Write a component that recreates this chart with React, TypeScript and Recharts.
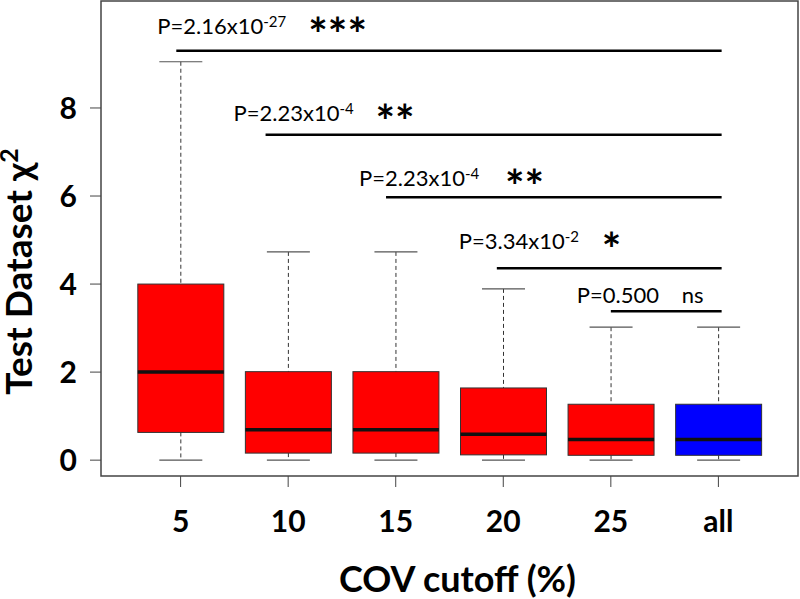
import React from 'react';
import { ComposedChart, Bar, XAxis, YAxis, ReferenceLine, ReferenceArea } from 'recharts';

const FONT = 'Lato, "Open Sans", sans-serif';

// box plot summary per COV cutoff
const categories = ['5', '10', '15', '20', '25', 'all'];
const whiskerLow = [0, 0, 0, 0, 0, 0];
const lowerQuartile = [0.63, 0.16, 0.16, 0.12, 0.11, 0.11];
const medians = [2.0, 0.69, 0.69, 0.59, 0.47, 0.47];
const upperQuartile = [4.0, 2.01, 2.01, 1.64, 1.27, 1.27];
const whiskerHigh = [9.05, 4.73, 4.73, 3.89, 3.02, 3.02];
const boxColors = ['#ff0000', '#ff0000', '#ff0000', '#ff0000', '#ff0000', '#0000ff'];

const yTicks = [0, 2, 4, 6, 8];

// comparisons of each cutoff against "all"
const testStart = [0.96, 1.79, 2.91, 3.94, 5.0];
const testEnd = 6.03;
const testLevel = [9.3, 7.39, 5.97, 4.36, 3.38];
const pValue = ['2.16', '2.23', '2.23', '3.34', '0.500'];
const pExponent = ['-27', '-4', '-4', '-2', ''];
const signif = ['***', '**', '**', '*', 'ns'];

// label placement relative to the bracket start (px)
const labelDx = [-19, -32, -27, -38, -34];
const labelDy = [-17, -14, -11, -19, -8];
const signifDx = [151, 142, 146, 143, 105];

const data = categories.map((name, i) => ({
  x: i + 1,
  name,
  box: [lowerQuartile[i], upperQuartile[i]],
  low: whiskerLow[i],
  q1: lowerQuartile[i],
  med: medians[i],
  q3: upperQuartile[i],
  high: whiskerHigh[i],
  color: boxColors[i],
}));

const BoxShape = (props: any) => {
  const { x, y, width, height, payload } = props;
  const top = Math.min(y, y + height);
  const h = Math.abs(height);
  const ppu = h / (payload.q3 - payload.q1);
  const toY = (v: number) => top + (payload.q3 - v) * ppu;
  const cx = x + width / 2;
  const cap = width / 4;
  return (
    <g>
      <line x1={cx} x2={cx} y1={toY(payload.high)} y2={top} stroke="#333" strokeDasharray="4 3" />
      <line x1={cx} x2={cx} y1={top + h} y2={toY(payload.low)} stroke="#333" strokeDasharray="4 3" />
      <line x1={cx - cap} x2={cx + cap} y1={toY(payload.high)} y2={toY(payload.high)} stroke="#555" strokeWidth={1.2} />
      <line x1={cx - cap} x2={cx + cap} y1={toY(payload.low)} y2={toY(payload.low)} stroke="#555" strokeWidth={1.2} />
      <rect x={x} y={top} width={width} height={h} fill={payload.color} stroke="#333" strokeWidth={1} />
      <line x1={x} x2={x + width} y1={toY(payload.med)} y2={toY(payload.med)} stroke="#111" strokeWidth={3.5} />
    </g>
  );
};

const TestLabel = (props: any) => {
  const { viewBox, index } = props;
  const vx = viewBox?.x ?? viewBox?.x1 ?? 0;
  const vy = viewBox?.y ?? viewBox?.y1 ?? 0;
  const tx = vx + labelDx[index];
  const ty = vy + labelDy[index];
  const exp = pExponent[index];
  const isNs = signif[index] === 'ns';
  return (
    <g>
      <text x={tx} y={ty} fontSize={22} fontFamily={FONT} fill="#000">
        {exp ? `P=${pValue[index]}x10` : `P=${pValue[index]}`}
        {exp ? (
          <tspan dy={-7} fontSize={15}>
            {exp}
          </tspan>
        ) : null}
      </text>
      <text
        x={tx + signifDx[index]}
        y={isNs ? ty : ty + 17}
        fontSize={isNs ? 22 : 46}
        fontWeight={isNs ? 'normal' : 'bold'}
        fontFamily={FONT}
        fill="#000"
      >
        {signif[index]}
      </text>
    </g>
  );
};

const XTitle = (props: any) => {
  const vb = props.viewBox || {};
  return (
    <text x={vb.x + vb.width / 2 + 8} y={vb.y + 116} textAnchor="middle" fontSize={36} fontWeight="bold" fontFamily={FONT} fill="#000">
      COV cutoff (%)
    </text>
  );
};

const YTitle = (props: any) => {
  const vb = props.viewBox || {};
  const cx = 32;
  const cy = vb.y + vb.height / 2 + 33;
  return (
    <text x={cx} y={cy} transform={`rotate(-90 ${cx} ${cy})`} textAnchor="middle" fontSize={37} fontWeight="bold" fontFamily={FONT} fill="#000">
      Test Dataset χ
      <tspan dy={-14} fontSize={25}>2</tspan>
    </text>
  );
};

const tickStyle = { fill: '#000', fontSize: 30, fontWeight: 'bold', fontFamily: FONT };

export default function App() {
  return (
    <div style={{ position: 'absolute', left: 0, top: 0, width: 800, height: 599, background: '#fff' }}>
      <ComposedChart width={800} height={599} data={data} margin={{ top: 1, right: 2, bottom: 0, left: 0 }}>
        <XAxis
          type="number"
          dataKey="x"
          domain={[0.26, 6.74]}
          allowDataOverflow
          ticks={[1, 2, 3, 4, 5, 6]}
          tickFormatter={(v: number) => categories[v - 1]}
          height={123}
          axisLine={false}
          tickLine={{ stroke: '#444' }}
          tickSize={11}
          tickMargin={24}
          tick={tickStyle}
          label={<XTitle />}
        />
        <YAxis
          type="number"
          domain={[-0.36, 10.43]}
          allowDataOverflow
          ticks={yTicks}
          width={101}
          axisLine={false}
          tickLine={{ stroke: '#444' }}
          tickSize={11}
          tickMargin={13}
          tick={tickStyle}
          label={<YTitle />}
        />
        <ReferenceArea x1={0.26} x2={6.74} y1={-0.36} y2={10.43} fill="#fff" fillOpacity={0} stroke="#444" strokeWidth={1.5} />
        <Bar dataKey="box" barSize={86} shape={<BoxShape />} isAnimationActive={false} />
        {testLevel.map((lvl, i) => (
          <ReferenceLine
            key={i}
            segment={[
              { x: testStart[i], y: lvl },
              { x: testEnd, y: lvl },
            ]}
            stroke="#000"
            strokeWidth={2.5}
            label={<TestLabel index={i} />}
          />
        ))}
      </ComposedChart>
    </div>
  );
}
